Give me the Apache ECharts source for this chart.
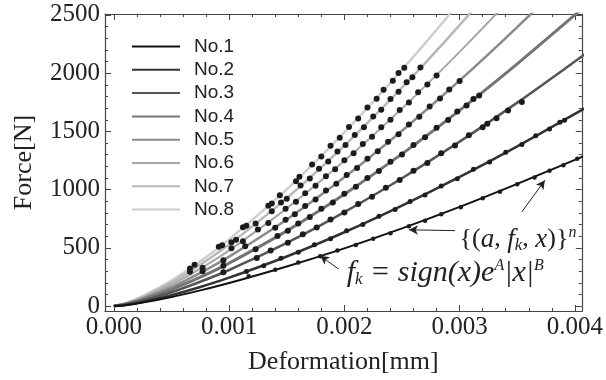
<!DOCTYPE html>
<html>
<head>
<meta charset="utf-8">
<script src="https://cdn.jsdelivr.net/npm/echarts@6/dist/echarts.min.js"></script>
<style>
  html, body { margin: 0; background: #fff; }
  #chart { width: 606px; height: 380px; }
</style>
</head>
<body>
<div id="chart"></div>
<script>
// fitted curves
const curveX = [0, 0.0001, 0.00025, 0.0005, 0.00075, 0.001, 0.0015, 0.002, 0.0025, 0.003, 0.0035, 0.004, 0.0041];
const fit1 = [0, 8, 30, 78, 135, 198, 340, 496, 667, 852, 1050, 1255, 1299];
const fit2 = [0, 10, 36, 94, 164, 244, 426, 634, 863, 1109, 1372, 1650, 1707];
const fit3 = [0, 13, 46, 119, 209, 310, 542, 807, 1098, 1412, 1747, 2100, 2173];
const fit4 = [0, 16, 55, 142, 248, 369, 646, 961, 1307, 1681, 2080, 2500, 2587];
const fit5 = [0, 18, 63, 163, 286, 425, 744, 1106, 1506, 1937, 2396, 2880, 2980];
const fit6 = [0, 20, 71, 184, 322, 479, 839, 1247, 1697, 2183, 2701, 3247, 3360];
const fit7 = [0, 22, 78, 203, 356, 529, 927, 1378, 1875, 2412, 2984, 3587, 3711];
const fit8 = [0, 24, 85, 220, 385, 573, 1002, 1491, 2029, 2610, 3228, 3881, 4016];

// measured points [deformation, force]
const pts1 = [[0.00117,256],[0.0014,313],[0.0016,374],[0.00179,428],[0.00194,477],[0.0021,525],[0.00225,579],[0.0024,626],[0.00256,686],[0.0027,733],[0.00284,788],[0.00301,849],[0.0032,926],[0.00335,981],[0.0035,1046],[0.00365,1104],[0.00378,1163],[0.0039,1210],[0.00402,1266]];
const pts2 = [[0.00115,298],[0.0013,347],[0.00145,410],[0.0016,462],[0.00174,526],[0.00188,578],[0.00202,646],[0.00216,700],[0.0023,772],[0.00244,830],[0.00257,899],[0.0027,954],[0.00284,1032],[0.00298,1094],[0.00312,1174],[0.00326,1238],[0.0034,1322],[0.00354,1388],[0.00366,1463],[0.00378,1520],[0.00387,1579],[0.00391,1596]];
const pts3 = [[0.00095,291],[0.00124,414],[0.00136,477],[0.00151,544],[0.00164,617],[0.00176,674],[0.00188,744],[0.002,804],[0.00212,877],[0.00224,940],[0.00236,1017],[0.00248,1082],[0.0026,1162],[0.00272,1228],[0.00284,1312],[0.00296,1380],[0.00308,1466],[0.0032,1536],[0.00324,1566],[0.00332,1612],[0.00342,1680],[0.00354,1752]];
const pts4 = [[0.00095,347],[0.00123,488],[0.00142,602],[0.00151,648],[0.0016,710],[0.0017,764],[0.0018,835],[0.0019,890],[0.002,965],[0.0021,1024],[0.0022,1100],[0.0023,1160],[0.0024,1240],[0.0025,1302],[0.0026,1384],[0.0027,1450],[0.0028,1532],[0.0029,1598],[0.00298,1670],[0.00306,1722],[0.00312,1778],[0.00317,1808]];
const pts5 = [[0.00077,300],[0.00095,394],[0.00114,514],[0.0014,672],[0.00149,742],[0.00157,788],[0.00166,860],[0.00175,916],[0.00184,992],[0.00193,1050],[0.00202,1126],[0.00211,1186],[0.0022,1266],[0.00229,1330],[0.00238,1412],[0.00247,1476],[0.00256,1560],[0.00265,1626],[0.00274,1714],[0.00283,1782],[0.00291,1860],[0.003,1932]];
const pts6 = [[0.00077,330],[0.00102,497],[0.00112,556],[0.00125,658],[0.00134,714],[0.00149,836],[0.00158,896],[0.00166,970],[0.00175,1034],[0.00184,1116],[0.00192,1174],[0.002,1252],[0.00208,1312],[0.00216,1392],[0.00224,1454],[0.00232,1536],[0.0024,1600],[0.00248,1684],[0.00256,1748],[0.00264,1836],[0.00272,1902],[0.0028,1980]];
const pts7 = [[0.00066,296],[0.00102,548],[0.00106,570],[0.00123,710],[0.00137,814],[0.00145,890],[0.0015,922],[0.00162,1036],[0.0017,1096],[0.00178,1180],[0.00186,1242],[0.00194,1328],[0.00201,1384],[0.00209,1470],[0.00217,1536],[0.00225,1628],[0.00232,1686],[0.0024,1778],[0.00247,1840],[0.00254,1922],[0.00259,1964],[0.00266,2048]];
const pts8 = [[0.00066,323],[0.0007,356],[0.00091,510],[0.00094,522],[0.00112,676],[0.00115,690],[0.00134,862],[0.00137,880],[0.00144,952],[0.00158,1072],[0.00161,1110],[0.00172,1215],[0.0018,1284],[0.00188,1376],[0.00196,1446],[0.00204,1538],[0.00212,1610],[0.0022,1706],[0.00228,1781],[0.00234,1858],[0.00242,1934],[0.00247,2002],[0.00252,2046]];

const seriesNames = ["No.1", "No.2", "No.3", "No.4", "No.5", "No.6", "No.7", "No.8"];

// axis ticks
const xMajor = [0, 0.001, 0.002, 0.003, 0.004];
const xMinor = [0.0002, 0.0004, 0.0006, 0.0008, 0.0012, 0.0014, 0.0016, 0.0018, 0.0022, 0.0024, 0.0026, 0.0028, 0.0032, 0.0034, 0.0036, 0.0038];
const yMajor = [0, 500, 1000, 1500, 2000, 2500];
const yMinor = [100, 200, 300, 400, 600, 700, 800, 900, 1100, 1200, 1300, 1400, 1600, 1700, 1800, 1900, 2100, 2200, 2300, 2400];

// annotation arrows [tail, head]
const arrowSet = [[0.00296, 648], [0.00256, 655]];
const arrowSet2 = [[0.00354, 810], [0.00374, 1080]];
const arrowFit = [[0.00195, 318], [0.00179, 432]];
const labelSetAt = [0.00300, 572];
const labelFitAt = [0.00202, 282];

const XMIN = -0.000077, XMAX = 0.00406;
const YMIN = -42, YMAX = 2508;

const fits = [fit1, fit2, fit3, fit4, fit5, fit6, fit7, fit8];
const pts = [pts1, pts2, pts3, pts4, pts5, pts6, pts7, pts8];
const lineColors = ["#111111", "#333333", "#555555", "#747474", "#8a8a8a", "#a6a6a6", "#b8b8b8", "#cecece"];
const lineWidths = [2, 2.5, 2.5, 3, 2.5, 2, 2.5, 2.5];

const serif = "Liberation Serif";
const frame = "#444";

const xAxisOf = (position, ticks, len, opts = {}) => ({
  type: "value",
  position,
  min: XMIN,
  max: XMAX,
  axisLine: { show: !!opts.line, onZero: false, lineStyle: { color: frame, width: 1.2 } },
  axisTick: { show: true, inside: true, length: len, customValues: ticks, lineStyle: { color: frame, width: 1 } },
  axisLabel: opts.label
    ? {
        customValues: ticks,
        margin: 4,
        fontFamily: serif,
        fontSize: 25,
        color: "#222",
        formatter: (v) => v.toFixed(3),
      }
    : { show: false },
  splitLine: { show: false },
  ...(opts.name || {}),
});

const yAxisOf = (position, ticks, len, opts = {}) => ({
  type: "value",
  position,
  min: YMIN,
  max: YMAX,
  axisLine: { show: !!opts.line, onZero: false, lineStyle: { color: frame, width: 1.2 } },
  axisTick: { show: true, inside: true, length: len, customValues: ticks, lineStyle: { color: frame, width: 1 } },
  axisLabel: opts.label
    ? {
        customValues: ticks,
        margin: 5,
        fontFamily: serif,
        fontSize: 25,
        color: "#222",
        formatter: (v) => String(v),
      }
    : { show: false },
  splitLine: { show: false },
  ...(opts.name || {}),
});

const chart = echarts.init(document.getElementById("chart"), null, { renderer: "canvas" });

const lineSeries = fits.map((vals, i) => ({
  type: "line",
  name: seriesNames[i],
  xAxisIndex: 0,
  yAxisIndex: 0,
  data: curveX.map((x, j) => [x, vals[j]]),
  smooth: 0.3,
  symbol: "none",
  z: 2 + (8 - i) * 0.01,
  lineStyle: { color: lineColors[i], width: lineWidths[i] },
  itemStyle: { color: lineColors[i] },
  emphasis: { disabled: true },
}));

const dotSeries = pts.map((d, i) => ({
  type: "scatter",
  name: "pts" + (i + 1),
  xAxisIndex: 0,
  yAxisIndex: 0,
  data: d,
  symbolSize: i === 0 ? 4.5 : i === 1 ? 5 : 6,
  itemStyle: { color: "#1c1c1c", opacity: 1 },
  z: 4,
  silent: true,
}));

// arrows ride on the No.1 curve
lineSeries[0].markLine = {
  silent: true,
  symbol: ["none", "arrow"],
  symbolSize: [7, 9],
  label: { show: false },
  lineStyle: { color: "#222", width: 1, type: "solid" },
  data: [arrowSet, arrowSet2, arrowFit].map((a) => [
    { coord: a[0] },
    { coord: a[1] },
  ]),
};

chart.setOption({
  animation: false,
  backgroundColor: "#fff",
  grid: { left: 105, right: 19, top: 14, bottom: 66 },
  legend: {
    data: seriesNames,
    orient: "vertical",
    left: 126,
    top: 32,
    itemWidth: 48,
    itemHeight: 14,
    itemGap: 4.3,
    selectedMode: false,
    itemStyle: { opacity: 0 },
    textStyle: {
      fontFamily: "Liberation Sans",
      fontSize: 19,
      color: "#222",
      padding: [0, 0, 0, 9],
    },
  },
  xAxis: [
    xAxisOf("bottom", xMajor, 6, {
      line: true,
      label: true,
      name: {
        name: "Deformation[mm]",
        nameLocation: "middle",
        nameGap: 38,
        nameTextStyle: { fontFamily: serif, fontSize: 26, color: "#222" },
      },
    }),
    xAxisOf("bottom", xMinor, 3),
    xAxisOf("top", xMajor, 6, { line: true }),
    xAxisOf("top", xMinor, 3),
  ],
  yAxis: [
    yAxisOf("left", yMajor, 6, {
      line: true,
      label: true,
      name: {
        name: "Force[N]",
        nameLocation: "middle",
        nameGap: 68,
        nameTextStyle: { fontFamily: serif, fontSize: 26, color: "#222" },
      },
    }),
    yAxisOf("left", yMinor, 3),
    yAxisOf("right", yMajor, 6, { line: true }),
    yAxisOf("right", yMinor, 3),
  ],
  series: [...lineSeries, ...dotSeries],
});

const toPx = (p) => chart.convertToPixel({ xAxisIndex: 0, yAxisIndex: 0 }, p);
const setPx = toPx(labelSetAt);
const fitPx = toPx(labelFitAt);

const mathRich = {
  i: { fontFamily: serif, fontStyle: "italic", fontSize: 27, fill: "#222", lineHeight: 30 },
  s: { fontFamily: serif, fontStyle: "italic", fontSize: 17, fill: "#222", lineHeight: 16, verticalAlign: "bottom" },
  p: { fontFamily: serif, fontStyle: "italic", fontSize: 16, fill: "#222", lineHeight: 15, verticalAlign: "top" },
  b: { fontFamily: serif, fontStyle: "italic", fontSize: 30, fill: "#222", lineHeight: 30 },
};

chart.setOption({
  graphic: [
    {
      type: "text",
      x: setPx[0],
      y: setPx[1],
      z: 10,
      style: {
        text: "{(" + "{i|a}" + ", " + "{i|f}{s|k}" + ", " + "{i|x}" + ")}" + "{p|n}",
        font: '26px "Liberation Serif"',
        fill: "#222",
        align: "left",
        verticalAlign: "middle",
        lineHeight: 30,
        rich: mathRich,
      },
    },
    {
      type: "text",
      x: fitPx[0],
      y: fitPx[1],
      z: 10,
      style: {
        text: "{b|f}{s|k}{b| = sign(x)e}{p|A}{b||x|}{p|B}",
        font: 'italic 30px "Liberation Serif"',
        fill: "#222",
        align: "left",
        verticalAlign: "middle",
        lineHeight: 30,
        rich: mathRich,
      },
    },
  ],
});
</script>
</body>
</html>
